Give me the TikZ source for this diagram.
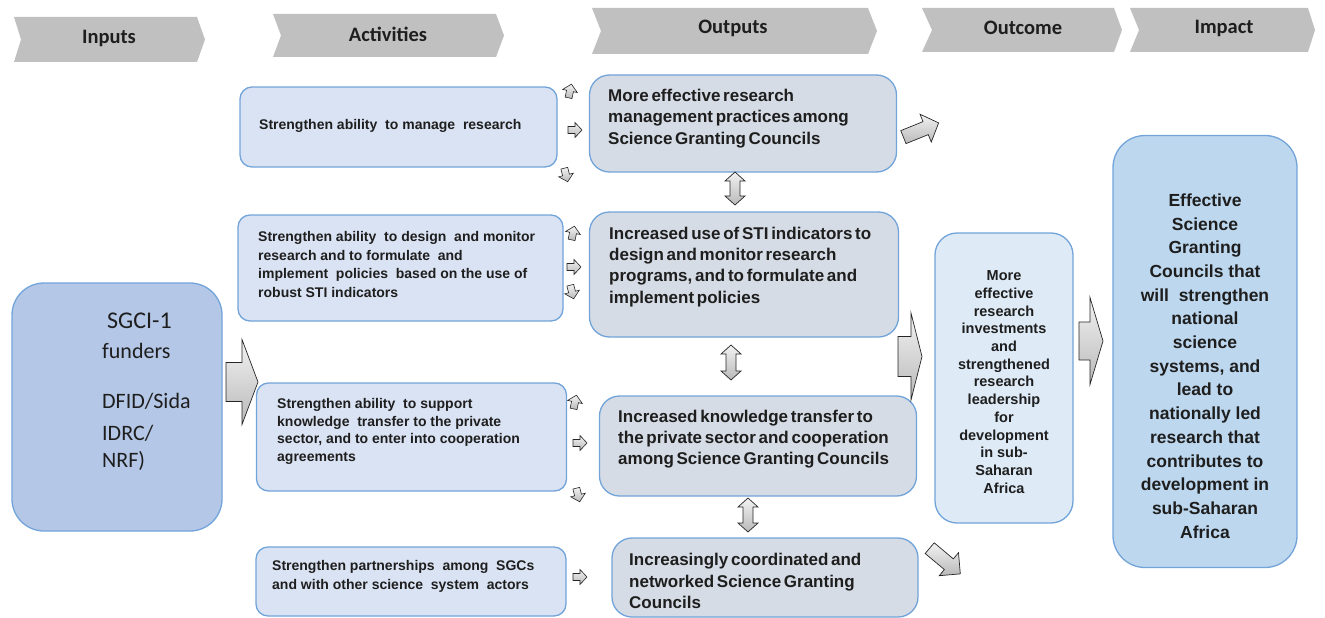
\documentclass[tikz,border=0pt]{standalone}
\usepackage{fontspec}
\setmainfont{Liberation Sans}
\newfontfamily\calibrifam{Carlito}
\usetikzlibrary{shadows}

\definecolor{chevgray}{HTML}{C0C0C0}
\definecolor{edgeblue}{HTML}{72A4DA}
\definecolor{inputfill}{HTML}{B4C7E7}
\definecolor{actfill}{HTML}{DAE3F3}
\definecolor{outfill}{HTML}{D6DCE5}
\definecolor{outcomefill}{HTML}{DEEBF7}
\definecolor{impactfill}{HTML}{BDD7EE}
\definecolor{ink}{HTML}{1E1E1E}

\newcommand\tightwords{\spaceskip=0.16em plus 0.05em\relax}

\tikzset{
  chevron/.style={fill=chevgray},
  header/.style={font=\calibrifam\bfseries\fontsize{20.5}{24}\selectfont, inner sep=0, text=ink},
  roundbox/.style={draw=edgeblue, line width=1.3pt, inner sep=0},
  inputbox/.style={roundbox, fill=inputfill, rounded corners=32pt},
  actbox/.style={roundbox, fill=actfill, rounded corners=12pt},
  outbox/.style={roundbox, fill=outfill, rounded corners=20pt},
  outcomebox/.style={roundbox, fill=outcomefill, rounded corners=22pt},
  impactbox/.style={roundbox, fill=impactfill, rounded corners=32pt},
  inputtxt/.style={font=\calibrifam\fontsize{22}{26}\selectfont, inner sep=0, anchor=base west, text=ink},
  acttxt/.style={font=\bfseries\fontsize{14}{18.5}\selectfont, align=left, anchor=west, inner sep=0, text=ink},
  outtxt/.style={font=\bfseries\fontsize{17}{21.2}\selectfont\tightwords, align=left, anchor=west, inner sep=0, text=ink},
  outcometxt/.style={font=\bfseries\fontsize{14.5}{17.7}\selectfont, align=center, inner sep=0, text=ink},
  impacttxt/.style={font=\bfseries\fontsize{17.5}{23.7}\selectfont, align=center, inner sep=0, text=ink},
  arrowbody/.style={draw=black!85, line width=0.7pt, top color=gray!10, bottom color=gray!55,
    drop shadow={opacity=0.35, shadow xshift=1pt, shadow yshift=-1pt}},
  smallarrow/.style={arrowbody, line width=0.6pt},
  pics/blockarrow/.style n args={4}{code={
    \path[pic actions] (-#1/2,-#2) -- (#1/2-#4,-#2) -- (#1/2-#4,-#3) -- (#1/2,0)
      -- (#1/2-#4,#3) -- (#1/2-#4,#2) -- (-#1/2,#2) -- cycle;}},
  pics/dblarrow/.style n args={4}{code={
    \path[pic actions] (-#1/2,0) -- (-#1/2+#4,-#3) -- (-#1/2+#4,-#2) -- (#1/2-#4,-#2)
      -- (#1/2-#4,-#3) -- (#1/2,0) -- (#1/2-#4,#3) -- (#1/2-#4,#2)
      -- (-#1/2+#4,#2) -- (-#1/2+#4,#3) -- cycle;}},
}

\begin{document}
\begin{tikzpicture}[x=1pt, y=-1pt]
\useasboundingbox (0,0) rectangle (1325,618);

% ---- stage headers ----
\fill[chevron] (14,17) -- (197,17) -- (205,39.5) -- (197,62) -- (14,62) -- (21,39.5) -- cycle;
\node[header] (hin) at (109,38) {Inputs};
\fill[chevron] (273,14) -- (496,14) -- (504,35.5) -- (496,57) -- (273,57) -- (281,35.5) -- cycle;
\node[header] (hact) at (388,34) {Activities};
\fill[chevron] (592,8) -- (868,8) -- (877,31) -- (868,54) -- (592,54) -- (601,31) -- cycle;
\node[header] (hout) at (733,28) {Outputs};
\fill[chevron] (922,8) -- (1114,8) -- (1122,30) -- (1114,52) -- (922,52) -- (932,30) -- cycle;
\node[header] (hoc) at (1023,28) {Outcome};
\fill[chevron] (1130,8) -- (1308,8) -- (1315,30) -- (1308,52) -- (1130,52) -- (1139,30) -- cycle;
\node[header] (himp) at (1224,28) {Impact};

% ---- inputs ----
\node[inputbox, minimum width=210pt, minimum height=248pt] (inputs) at (117,407) {};
\node[inputtxt, font=\calibrifam\fontsize{24}{28}\selectfont] (in1) at (107,328) {SGCI-1};
\node[inputtxt] (in2) at (102,358) {funders};
\node[inputtxt] (in3) at (102,408) {DFID/Sida};
\node[inputtxt] (in4) at (102,440) {IDRC/};
\node[inputtxt] (in5) at (102,467) {NRF)};
\pic[arrowbody] (inarrow) at (242,382) {blockarrow={32}{19.5}{42.5}{16}};

% ---- activities ----
\node[actbox, minimum width=317pt, minimum height=80pt] (act1) at (398.5,127) {};
\node[acttxt] (act1t) at (259,126) {Strengthen ability\ \ to manage\ \ research};
\node[actbox, minimum width=325pt, minimum height=106pt] (act2) at (400.5,268) {};
\node[acttxt] (act2t) at (258,264.5) {Strengthen ability\ \ to design\ \ and monitor\\research and to formulate\ \ and\\implement\ \ policies\ \ based on the use of\\robust STI indicators};
\node[actbox, minimum width=310pt, minimum height=108pt] (act3) at (411.5,437) {};
\node[acttxt, font=\bfseries\fontsize{14}{17.8}\selectfont] (act3t) at (277,431.5) {Strengthen ability\ \ to support\\knowledge\ \ transfer to the private\\sector, and to enter into cooperation\\agreements};
\node[actbox, minimum width=310pt, minimum height=69pt] (act4) at (411,581.5) {};
\node[acttxt, font=\bfseries\fontsize{14}{19}\selectfont] (act4t) at (272,576) {Strengthen partnerships\ \ among\ \ SGCs\\and with other science\ \ system\ \ actors};

% ---- small links from activities to outputs ----
\pic[smallarrow, rotate=78] (s1u) at (570,91) {blockarrow={14}{3.5}{7.5}{7}};
\pic[smallarrow] (s1r) at (575,130) {blockarrow={14}{3.5}{7.5}{7}};
\pic[smallarrow, rotate=-76] (s1d) at (566,175) {blockarrow={14}{3.5}{7.5}{7}};
\pic[smallarrow, rotate=78] (s2u) at (573,233) {blockarrow={14}{3.5}{7.5}{7}};
\pic[smallarrow] (s2r) at (574,267) {blockarrow={14}{3.5}{7.5}{7}};
\pic[smallarrow, rotate=-76] (s2d) at (572,292) {blockarrow={14}{3.5}{7.5}{7}};
\pic[smallarrow, rotate=78] (s3u) at (575,402) {blockarrow={14}{3.5}{7.5}{7}};
\pic[smallarrow] (s3r) at (580,443) {blockarrow={14}{3.5}{7.5}{7}};
\pic[smallarrow, rotate=-76] (s3d) at (578,495) {blockarrow={14}{3.5}{7.5}{7}};
\pic[smallarrow] (s4r) at (580,577) {blockarrow={14}{3.5}{7.5}{7}};

% ---- outputs ----
\node[outbox, minimum width=307pt, minimum height=97pt] (out1) at (743,123.5) {};
\node[outtxt] (out1t) at (608,118.5) {More effective research\\management practices among\\Science Granting Councils};
\node[outbox, minimum width=309pt, minimum height=125pt] (out2) at (744,274.5) {};
\node[outtxt] (out2t) at (609,267) {Increased use of STI indicators to\\design and monitor research\\programs, and to formulate and\\implement policies};
\node[outbox, minimum width=317pt, minimum height=100pt] (out3) at (758,446) {};
\node[outtxt] (out3t) at (618,439) {Increased knowledge transfer to\\the private sector and cooperation\\among Science Granting Councils};
\node[outbox, minimum width=306pt, minimum height=79pt] (out4) at (765,577.5) {};
\node[outtxt] (out4t) at (629,581) {Increasingly coordinated and\\networked Science Granting\\Councils};

% ---- links between outputs ----
\pic[arrowbody, rotate=90] (d12) at (735,188.5) {dblarrow={33}{5}{10}{9}};
\pic[arrowbody, rotate=90] (d23) at (731,362.5) {dblarrow={35}{5}{10}{9}};
\pic[arrowbody, rotate=90] (d34) at (748,515) {dblarrow={34}{5}{10}{9}};

% ---- outputs to outcome ----
\pic[arrowbody, rotate=22] (o1arrow) at (921,130) {blockarrow={38}{7}{15}{14}};
\pic[arrowbody] (o2arrow) at (910,356.5) {blockarrow={24}{20}{43.5}{11}};
\pic[arrowbody, rotate=-40] (o4arrow) at (945,561) {blockarrow={40}{7}{15}{15}};

% ---- outcome ----
\node[outcomebox, minimum width=138pt, minimum height=290pt] (outcome) at (1004,378) {};
\node[outcometxt] (outcomet) at (1004,382) {More\\effective\\research\\investments\\and\\strengthened\\research\\leadership\\for\\development\\in sub-\\Saharan\\Africa};

\pic[arrowbody] (ocarrow) at (1091,341) {blockarrow={24}{19}{43.5}{13}};

% ---- impact ----
\node[impactbox, minimum width=184pt, minimum height=432pt] (impact) at (1205,351.5) {};
\node[impacttxt] (impactt) at (1205,366) {Effective\\Science\\Granting\\Councils that\\will\ \ strengthen\\national\\science\\systems, and\\lead to\\nationally led\\research that\\contributes to\\development in\\sub-Saharan\\Africa};
\end{tikzpicture}
\end{document}
